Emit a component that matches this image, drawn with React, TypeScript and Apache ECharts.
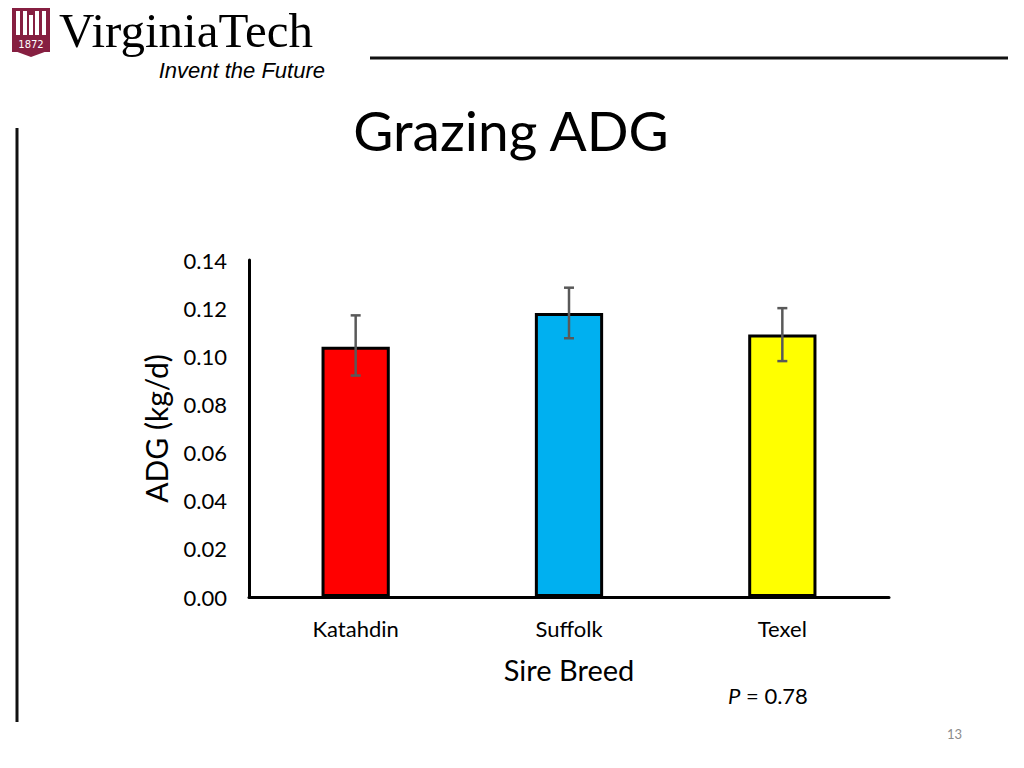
import React, { useEffect, useRef } from "react";
import * as echarts from "echarts";

const categories = ["Katahdin", "Suffolk", "Texel"];
const adgValues = [0.104, 0.118, 0.109];
const errLow = [0.092, 0.1075, 0.098];
const errHigh = [0.117, 0.1285, 0.120];
const barColors = ["#FF0000", "#00B0F0", "#FFFF00"];

const FONT = "Lato, 'Open Sans', sans-serif";

export default function App() {
  const ref = useRef<HTMLDivElement>(null);
  useEffect(() => {
    if (!ref.current) return;
    const chart = echarts.init(ref.current, undefined, { renderer: "svg" });
    const errData = categories.map((_, i) => [i, errLow[i], errHigh[i]]);
    chart.setOption({
      animation: false,
      backgroundColor: "#ffffff",
      grid: { left: 249, right: 135, top: 260, bottom: 171, containLabel: false },
      xAxis: {
        type: "category",
        data: categories,
        axisLine: { show: true, lineStyle: { color: "#000", width: 3 } },
        axisTick: { show: false },
        axisLabel: { color: "#000", fontSize: 22, fontFamily: FONT, margin: 20 },
        name: "Sire Breed",
        nameLocation: "middle",
        nameGap: 58,
        nameTextStyle: { color: "#000", fontSize: 29, fontFamily: FONT },
      },
      yAxis: {
        type: "value",
        min: 0,
        max: 0.14,
        interval: 0.02,
        axisLine: { show: true, lineStyle: { color: "#000", width: 3 } },
        axisTick: { show: false },
        splitLine: { show: false },
        axisLabel: {
          color: "#000",
          fontSize: 22,
          fontFamily: FONT,
          margin: 22,
          formatter: (v: number) => v.toFixed(2),
        },
        name: "ADG (kg/d)",
        nameLocation: "middle",
        nameGap: 78,
        nameRotate: 90,
        nameTextStyle: { color: "#000", fontSize: 30, fontFamily: FONT },
      },
      series: [
        {
          type: "bar",
          data: adgValues.map((v, i) => ({ value: v, itemStyle: { color: barColors[i] } })),
          barWidth: "32%",
          itemStyle: { borderColor: "#000", borderWidth: 3 },
          z: 2,
        },
        {
          type: "custom",
          data: errData,
          z: 5,
          renderItem: (params: any, api: any) => {
            const x = api.value(0);
            const lo = api.coord([x, api.value(1)]);
            const hi = api.coord([x, api.value(2)]);
            const w = 5;
            const style = { stroke: "#595959", lineWidth: 2.5 };
            return {
              type: "group",
              children: [
                { type: "line", shape: { x1: lo[0], y1: lo[1], x2: hi[0], y2: hi[1] }, style },
                { type: "line", shape: { x1: hi[0] - w, y1: hi[1], x2: hi[0] + w, y2: hi[1] }, style },
                { type: "line", shape: { x1: lo[0] - w, y1: lo[1], x2: lo[0] + w, y2: lo[1] }, style },
              ],
            };
          },
        },
      ],
      graphic: [
        // logo shield
        { type: "rect", shape: { x: 12, y: 8, width: 38, height: 44 }, style: { fill: "#861F41" } },
        { type: "polygon", shape: { points: [[12, 50], [50, 50], [31, 57]] }, style: { fill: "#861F41" } },
        { type: "rect", shape: { x: 16, y: 11, width: 4, height: 24 }, style: { fill: "#fff" } },
        { type: "rect", shape: { x: 23, y: 11, width: 4, height: 24 }, style: { fill: "#fff" } },
        { type: "rect", shape: { x: 35, y: 11, width: 4, height: 24 }, style: { fill: "#fff" } },
        { type: "rect", shape: { x: 42, y: 11, width: 4, height: 24 }, style: { fill: "#fff" } },
        { type: "rect", shape: { x: 29, y: 15, width: 4, height: 20 }, style: { fill: "#fff" } },
        {
          type: "text",
          x: 31,
          y: 44,
          style: { text: "1872", fill: "#fff", fontSize: 10, fontFamily: "DejaVu Sans", align: "center", verticalAlign: "middle" },
        },
        {
          type: "text",
          x: 59,
          y: 30,
          style: {
            text: "VirginiaTech",
            fill: "#000",
            fontSize: 49,
            lineHeight: 40,
            fontFamily: "'Liberation Serif', serif",
            verticalAlign: "middle",
          },
        },
        {
          type: "text",
          x: 325,
          y: 70,
          style: {
            text: "Invent the Future",
            fill: "#000",
            fontSize: 22,
            lineHeight: 20,
            fontStyle: "italic",
            fontFamily: "'Liberation Sans', Arial, sans-serif",
            align: "right",
            verticalAlign: "middle",
          },
        },
        { type: "line", shape: { x1: 370, y1: 58, x2: 1008, y2: 58 }, style: { stroke: "#111", lineWidth: 3 } },
        { type: "line", shape: { x1: 17, y1: 128, x2: 17, y2: 722 }, style: { stroke: "#111", lineWidth: 3 } },
        {
          type: "text",
          x: 511,
          y: 130,
          style: { text: "Grazing ADG", fill: "#000", fontSize: 55, fontFamily: FONT, align: "center", verticalAlign: "middle" },
        },
        {
          type: "text",
          x: 728,
          y: 695,
          style: {
            text: "{i|P} = 0.78",
            fill: "#000",
            fontSize: 22,
            fontFamily: FONT,
            verticalAlign: "middle",
            rich: { i: { fontStyle: "italic", fontSize: 22, fontFamily: FONT, fill: "#000" } },
          },
        },
        {
          type: "text",
          x: 962,
          y: 734,
          style: { text: "13", fill: "#8c8c8c", fontSize: 13, fontFamily: FONT, align: "right", verticalAlign: "middle" },
        },
      ],
    });
    return () => chart.dispose();
  }, []);
  return (
    <div
      ref={ref}
      style={{ position: "fixed", left: 0, top: 0, width: 1024, height: 768 }}
    />
  );
}
